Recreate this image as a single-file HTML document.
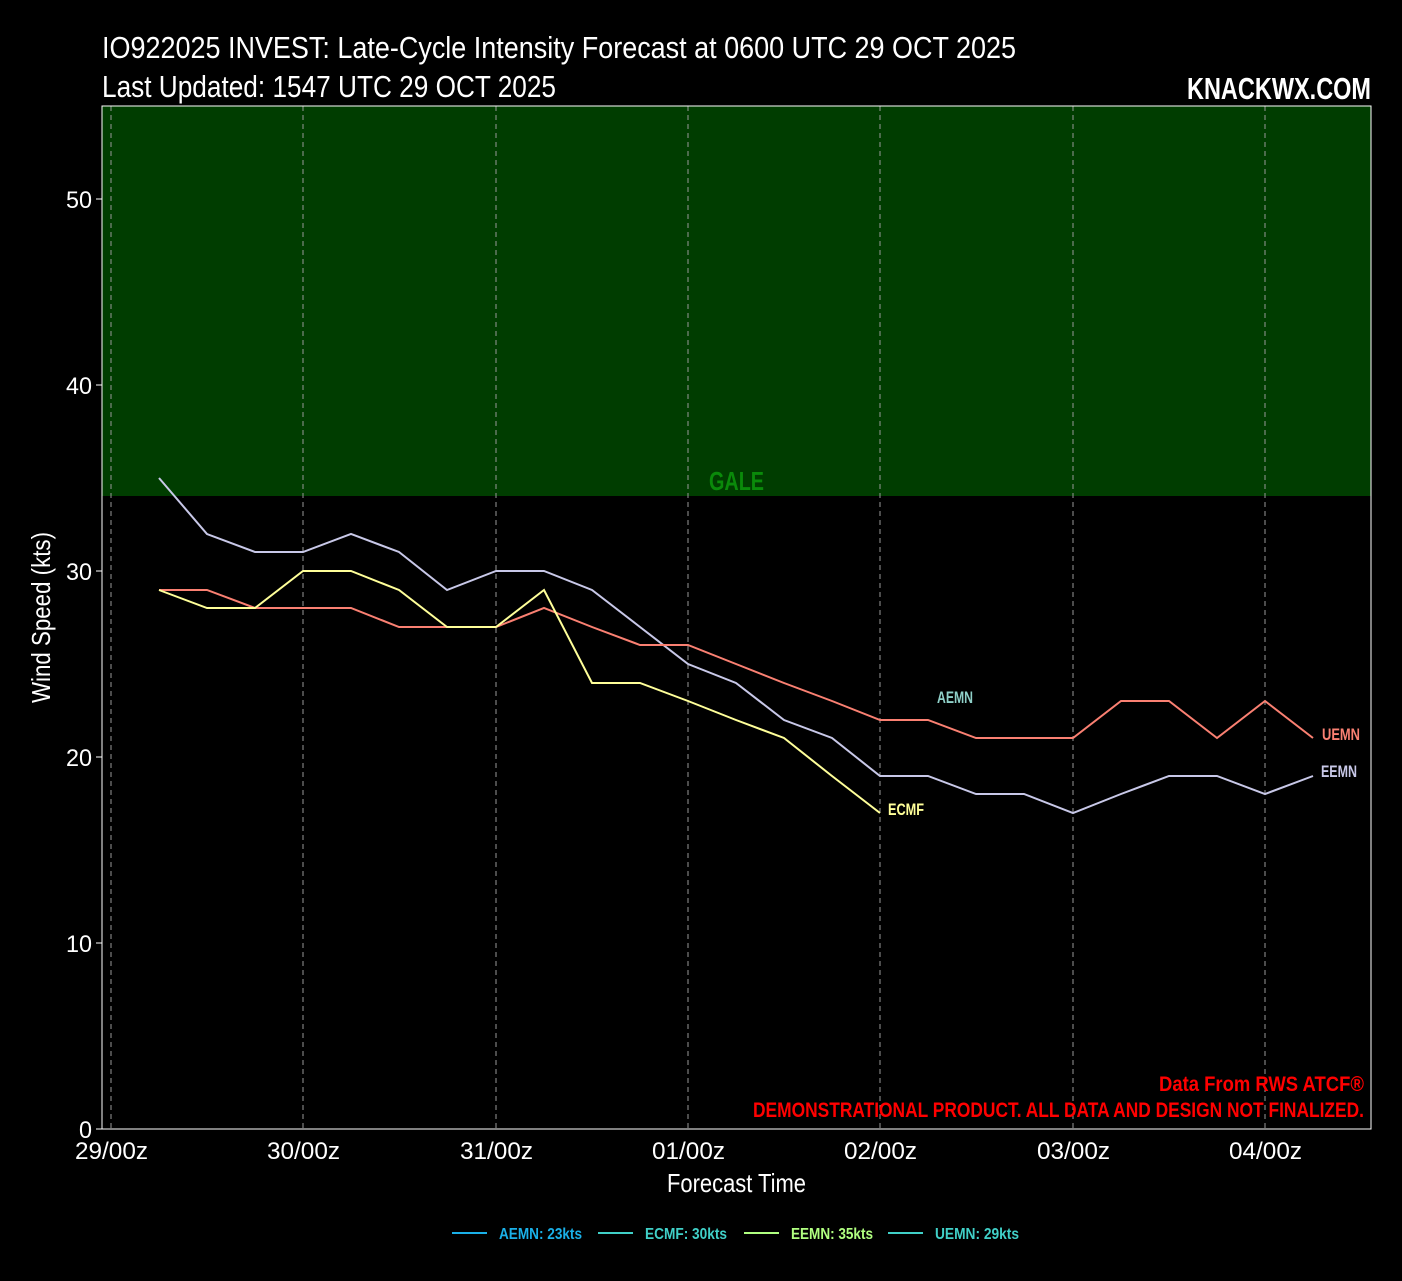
<!DOCTYPE html>
<html><head><meta charset="utf-8"><style>
body{margin:0;background:#000;width:1402px;height:1276px;overflow:hidden}
svg text{font-family:"Liberation Sans Narrow","Liberation Sans",sans-serif}
</style></head><body>
<svg width="1402" height="1276" xmlns="http://www.w3.org/2000/svg">
<rect width="1402" height="1276" fill="#000"/>
<text x="102" y="58" fill="#fff" font-size="31" textLength="914" lengthAdjust="spacingAndGlyphs">IO922025 INVEST: Late-Cycle Intensity Forecast at 0600 UTC 29 OCT 2025</text>
<text x="102" y="97" fill="#fff" font-size="31" textLength="454" lengthAdjust="spacingAndGlyphs">Last Updated: 1547 UTC 29 OCT 2025</text>
<text x="1187" y="99" fill="#fff" font-size="31" font-weight="bold" textLength="184" lengthAdjust="spacingAndGlyphs">KNACKWX.COM</text>
<rect x="102" y="106" width="1269" height="390" fill="#003d00"/>
<text x="709" y="490" fill="#0a8a0a" font-size="26" font-weight="bold" textLength="55" lengthAdjust="spacingAndGlyphs">GALE</text>
<g stroke="#999" stroke-dasharray="5,4" stroke-width="1">
<line x1="111" y1="106" x2="111" y2="1129"/><line x1="303" y1="106" x2="303" y2="1129"/><line x1="496" y1="106" x2="496" y2="1129"/><line x1="688" y1="106" x2="688" y2="1129"/><line x1="880" y1="106" x2="880" y2="1129"/><line x1="1073" y1="106" x2="1073" y2="1129"/><line x1="1265" y1="106" x2="1265" y2="1129"/>
</g>
<rect x="102" y="106" width="1269" height="1023" fill="none" stroke="#fff" stroke-width="1"/>
<g fill="#fff" font-size="24">
<text x="79" y="1138" textLength="13" lengthAdjust="spacingAndGlyphs">0</text>
<text x="66" y="952" textLength="26" lengthAdjust="spacingAndGlyphs">10</text>
<text x="66" y="766" textLength="26" lengthAdjust="spacingAndGlyphs">20</text>
<text x="66" y="580" textLength="26" lengthAdjust="spacingAndGlyphs">30</text>
<text x="66" y="394" textLength="26" lengthAdjust="spacingAndGlyphs">40</text>
<text x="66" y="208" textLength="26" lengthAdjust="spacingAndGlyphs">50</text>
</g>
<g stroke="#fff"><line x1="96" y1="1129" x2="102" y2="1129"/><line x1="96" y1="943" x2="102" y2="943"/><line x1="96" y1="757" x2="102" y2="757"/><line x1="96" y1="571" x2="102" y2="571"/><line x1="96" y1="385" x2="102" y2="385"/><line x1="96" y1="199" x2="102" y2="199"/></g>
<g fill="#fff" font-size="24">
<text x="75" y="1159" textLength="73" lengthAdjust="spacingAndGlyphs">29/00z</text>
<text x="267" y="1159" textLength="73" lengthAdjust="spacingAndGlyphs">30/00z</text>
<text x="460" y="1159" textLength="73" lengthAdjust="spacingAndGlyphs">31/00z</text>
<text x="652" y="1159" textLength="73" lengthAdjust="spacingAndGlyphs">01/00z</text>
<text x="844" y="1159" textLength="73" lengthAdjust="spacingAndGlyphs">02/00z</text>
<text x="1037" y="1159" textLength="73" lengthAdjust="spacingAndGlyphs">03/00z</text>
<text x="1229" y="1159" textLength="73" lengthAdjust="spacingAndGlyphs">04/00z</text>
</g>
<text x="667" y="1192" fill="#fff" font-size="26" textLength="139" lengthAdjust="spacingAndGlyphs">Forecast Time</text>
<text transform="translate(50,703) rotate(-90)" fill="#fff" font-size="26" textLength="171" lengthAdjust="spacingAndGlyphs">Wind Speed (kts)</text>
<polyline fill="none" stroke="#c8c8e8" stroke-width="2" points="159,478 207,534 255,552 303,552 351,534 399,552 447,590 496,571 544,571 592,590 640,627 688,664 736,683 784,720 832,738 880,776 928,776 976,794 1024,794 1073,813 1121,794 1169,776 1217,776 1265,794 1313,776"/>
<polyline fill="none" stroke="#fa8072" stroke-width="2" points="159,590 207,590 255,608 303,608 351,608 399,627 447,627 496,627 544,608 592,627 640,645 688,645 736,664 784,683 832,701 880,720 928,720 976,738 1024,738 1073,738 1121,701 1169,701 1217,738 1265,701 1313,738"/>
<polyline fill="none" stroke="#ffff99" stroke-width="2" points="159,590 207,608 255,608 303,571 351,571 399,590 447,627 496,627 544,590 592,683 640,683 688,701 736,720 784,738 832,776 880,813"/>
<g font-size="17" font-weight="bold">
<text x="937" y="703" fill="#8fd0c8" textLength="36" lengthAdjust="spacingAndGlyphs">AEMN</text>
<text x="1322" y="740" fill="#fa8072" textLength="38" lengthAdjust="spacingAndGlyphs">UEMN</text>
<text x="1321" y="777" fill="#c8c8e8" textLength="36" lengthAdjust="spacingAndGlyphs">EEMN</text>
<text x="888" y="815" fill="#ffff99" textLength="36" lengthAdjust="spacingAndGlyphs">ECMF</text>
</g>
<g font-size="21" font-weight="bold" fill="#f00">
<text x="1159" y="1091" textLength="205" lengthAdjust="spacingAndGlyphs">Data From RWS ATCF®</text>
<text x="753" y="1117" textLength="611" lengthAdjust="spacingAndGlyphs">DEMONSTRATIONAL PRODUCT. ALL DATA AND DESIGN NOT FINALIZED.</text>
</g>
<g font-size="16" font-weight="bold">
<line x1="452" y1="1233" x2="487" y2="1233" stroke="#1ab0e8" stroke-width="2"/><text x="499" y="1239" fill="#1ab0e8" textLength="83" lengthAdjust="spacingAndGlyphs">AEMN: 23kts</text>
<line x1="598" y1="1233" x2="633" y2="1233" stroke="#40d0c8" stroke-width="2"/><text x="645" y="1239" fill="#40d0c8" textLength="82" lengthAdjust="spacingAndGlyphs">ECMF: 30kts</text>
<line x1="744" y1="1233" x2="779" y2="1233" stroke="#b0ff80" stroke-width="2"/><text x="791" y="1239" fill="#b0ff80" textLength="82" lengthAdjust="spacingAndGlyphs">EEMN: 35kts</text>
<line x1="888" y1="1233" x2="923" y2="1233" stroke="#40d0c8" stroke-width="2"/><text x="935" y="1239" fill="#40d0c8" textLength="84" lengthAdjust="spacingAndGlyphs">UEMN: 29kts</text>
</g>
</svg>
</body></html>
